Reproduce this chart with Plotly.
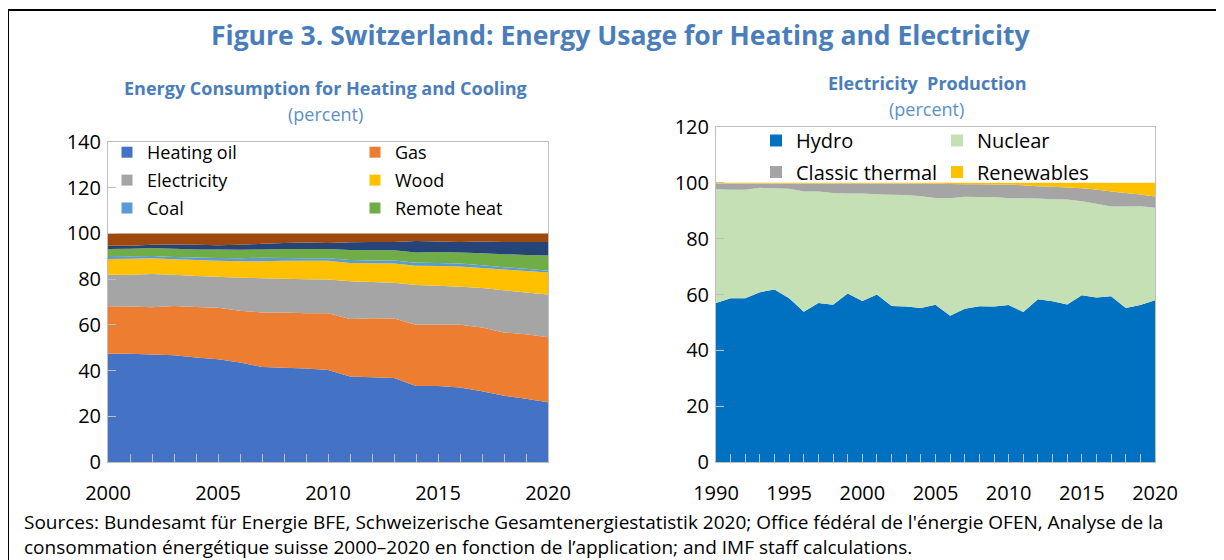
import plotly.graph_objects as go

# ---------------- data ----------------
years_heat = list(range(2000, 2021))
heating_oil = [47.4, 47.4, 47.0, 46.7, 45.7, 44.9, 43.5, 41.6, 41.2, 40.9, 40.3,
               37.4, 37.1, 36.8, 33.3, 33.2, 32.6, 31.0, 29.0, 27.7, 26.1]
gas = [20.7, 20.6, 20.7, 21.6, 22.1, 22.6, 22.7, 23.8, 24.2, 24.2, 24.8,
       25.2, 25.8, 26.0, 26.7, 26.9, 27.4, 27.8, 27.7, 28.2, 28.5]
electricity = [13.8, 13.9, 14.5, 13.6, 13.6, 13.6, 14.4, 15.0, 14.8, 14.9, 14.7,
               16.5, 15.9, 15.6, 17.4, 17.0, 16.7, 17.3, 18.4, 18.3, 18.7]
wood = [6.9, 7.0, 6.9, 6.8, 7.0, 7.0, 7.2, 7.4, 7.8, 8.0, 8.2,
        8.0, 8.1, 8.4, 8.5, 8.6, 8.8, 8.8, 9.1, 9.4, 9.6]
coal = [1.3, 1.1, 1.0, 1.0, 1.1, 1.2, 1.3, 1.6, 1.3, 1.1, 1.1,
        1.3, 1.3, 1.4, 1.3, 1.4, 1.3, 1.2, 1.0, 0.9, 0.8]
remote_heat = [3.1, 3.3, 3.5, 3.6, 3.5, 3.7, 3.8, 3.6, 3.9, 4.1, 4.1,
               4.3, 4.4, 4.4, 4.5, 4.8, 4.9, 5.2, 5.7, 6.1, 6.6]
other_heat_a = [1.4, 1.3, 1.4, 1.9, 2.0, 1.8, 2.1, 2.5, 2.6, 2.8, 2.6,
                3.4, 3.6, 3.7, 5.0, 4.6, 4.6, 5.2, 5.4, 5.6, 5.9]
other_heat_b = [5.4, 5.4, 5.0, 4.8, 5.0, 5.2, 5.0, 4.5, 4.2, 4.0, 4.2,
                3.9, 3.8, 3.7, 3.3, 3.5, 3.7, 3.5, 3.7, 3.8, 3.8]

years_elec = list(range(1990, 2021))
hydro = [57.0, 58.7, 58.7, 60.8, 61.8, 58.7, 53.8, 57.0, 56.3, 60.4, 57.7,
         60.0, 55.9, 55.7, 55.2, 56.3, 52.4, 54.9, 55.8, 55.7, 56.2,
         53.7, 58.3, 57.6, 56.4, 59.7, 58.9, 59.4, 55.2, 56.2, 57.9]
nuclear = [40.7, 38.8, 38.8, 37.4, 36.3, 39.2, 43.1, 39.9, 40.1, 35.8, 38.5,
           35.9, 39.8, 39.9, 40.0, 38.3, 42.1, 40.1, 39.1, 39.2, 38.3,
           40.8, 36.1, 36.5, 37.6, 33.7, 33.6, 32.1, 36.3, 35.4, 33.2]
classic_thermal = [2.1, 2.3, 2.3, 1.6, 1.7, 1.9, 2.9, 2.9, 3.4, 3.6, 3.6,
                   3.9, 4.1, 4.2, 4.5, 5.1, 5.1, 4.5, 4.6, 4.5, 4.9,
                   4.6, 4.4, 4.5, 4.3, 4.7, 5.1, 5.4, 4.9, 4.2, 4.0]
renewables = [0.2, 0.2, 0.2, 0.2, 0.2, 0.2, 0.2, 0.2, 0.2, 0.2, 0.2,
              0.2, 0.2, 0.2, 0.3, 0.3, 0.4, 0.5, 0.5, 0.6, 0.6,
              0.9, 1.2, 1.4, 1.7, 1.9, 2.4, 3.1, 3.6, 4.2, 4.9]

heat_names = ["Heating oil", "Gas", "Electricity", "Wood", "Coal", "Remote heat", "Other A", "Other B"]
heat_values = [heating_oil, gas, electricity, wood, coal, remote_heat, other_heat_a, other_heat_b]
heat_colors = ["#4472C4", "#ED7D31", "#A5A5A5", "#FFC000", "#5B9BD5", "#70AD47", "#264478", "#9E480E"]
heat_legend = ["legend", "legend2", "legend", "legend2", "legend", "legend2", None, None]

elec_names = ["Hydro", "Nuclear", "Classic thermal", "Renewables"]
elec_values = [hydro, nuclear, classic_thermal, renewables]
elec_colors = ["#0070C0", "#C5E0B4", "#A5A5A5", "#FFC000"]
elec_legend = ["legend3", "legend4", "legend3", "legend4"]

W, H = 1224, 560
OFF = 8  # page body margin
FONT = "Open Sans"
BLUE = "#4A7EBB"

def px(x):
    return (x - OFF) / W

def py(y):
    return (H - (y - OFF)) / H

fig = go.Figure()

# left stacked areas
for name, vals, col in zip(heat_names, heat_values, heat_colors):
    fig.add_trace(go.Scatter(
        x=years_heat, y=vals, name=name, stackgroup="heat", mode="none",
        fillcolor=col, showlegend=False, xaxis="x", yaxis="y",
        hoverinfo="x+y+name"))
# right stacked areas
for name, vals, col in zip(elec_names, elec_values, elec_colors):
    fig.add_trace(go.Scatter(
        x=years_elec, y=vals, name=name, stackgroup="elec", mode="none",
        fillcolor=col, showlegend=False, xaxis="x2", yaxis="y2",
        hoverinfo="x+y+name"))

# legend entries (square swatches)
for name, col, lg in zip(heat_names, heat_colors, heat_legend):
    if lg is None:
        continue
    fig.add_trace(go.Scatter(
        x=[None], y=[None], name=name, mode="markers",
        marker=dict(symbol="square", size=11, color=col),
        legend=lg, legendgroup=name, xaxis="x", yaxis="y"))
for name, col, lg in zip(elec_names, elec_colors, elec_legend):
    fig.add_trace(go.Scatter(
        x=[None], y=[None], name=name, mode="markers",
        marker=dict(symbol="square", size=12, color=col),
        legend=lg, legendgroup=name, xaxis="x2", yaxis="y2"))

axis_common = dict(showgrid=False, zeroline=False, showline=True, mirror=True,
                   linecolor="#BFBFBF", linewidth=1, ticks="inside", ticklen=8,
                   tickcolor="#BFBFBF", automargin=False,
                   tickfont=dict(family=FONT, size=20, color="#000000"))

fig.update_layout(
    template="none",
    width=W, height=H,
    margin=dict(l=0, r=0, t=0, b=0, pad=0, autoexpand=False),
    paper_bgcolor="white", plot_bgcolor="white",
    font=dict(family=FONT, color="#000000"),
    xaxis=dict(domain=[px(108), px(548)], range=[2000, 2020], dtick=5, anchor="y",
               ticklabelstandoff=13,
               minor=dict(dtick=1, ticks="inside", ticklen=8, tickcolor="#BFBFBF"),
               **axis_common),
    yaxis=dict(domain=[py(462), py(142)], range=[0, 140], dtick=20, anchor="x",
               ticklabelstandoff=2, **axis_common),
    xaxis2=dict(domain=[px(716), px(1155)], range=[1990, 2020], dtick=5, anchor="y2",
                ticklabelstandoff=13,
                minor=dict(dtick=1, ticks="inside", ticklen=8, tickcolor="#BFBFBF"),
                **axis_common),
    yaxis2=dict(domain=[py(462), py(127)], range=[0, 120], dtick=20, anchor="x2",
                ticklabelstandoff=2, **axis_common),
    legend=dict(x=px(107), y=py(134), xanchor="left", yanchor="top",
                bgcolor="rgba(0,0,0,0)", font=dict(family=FONT, size=18),
                traceorder="grouped", tracegroupgap=1.5),
    legend2=dict(x=px(355), y=py(134), xanchor="left", yanchor="top",
                 bgcolor="rgba(0,0,0,0)", font=dict(family=FONT, size=18),
                 traceorder="grouped", tracegroupgap=1.5),
    legend3=dict(x=px(756), y=py(121), xanchor="left", yanchor="top",
                 bgcolor="rgba(0,0,0,0)", font=dict(family=FONT, size=20),
                 traceorder="grouped", tracegroupgap=2.5),
    legend4=dict(x=px(937), y=py(121), xanchor="left", yanchor="top",
                 bgcolor="rgba(0,0,0,0)", font=dict(family=FONT, size=20),
                 traceorder="grouped", tracegroupgap=2.5),
)

# outer black frame
fig.add_shape(type="rect", xref="paper", yref="paper",
              x0=px(8), x1=px(1220), y0=-0.1, y1=py(10),
              line=dict(color="#000000", width=2), fillcolor="rgba(0,0,0,0)", layer="below")

ann = [
    dict(text="<b>Figure 3. Switzerland: Energy Usage for Heating and Electricity</b>",
         x=px(621), y=py(35), font=dict(family=FONT, size=26.5, color=BLUE)),
    dict(text="<b>Energy Consumption for Heating and Cooling</b>",
         x=px(325), y=py(88), font=dict(family=FONT, size=18, color=BLUE)),
    dict(text="(percent)", x=px(325), y=py(114), font=dict(family=FONT, size=18, color="#5B8FC7")),
    dict(text="<b>Electricity  Production</b>",
         x=px(927), y=py(83), font=dict(family=FONT, size=18, color=BLUE)),
    dict(text="(percent)", x=px(926), y=py(109), font=dict(family=FONT, size=18, color="#5B8FC7")),
]
for a in ann:
    fig.add_annotation(xref="paper", yref="paper", xanchor="center", yanchor="middle",
                       showarrow=False, **a)

foot = ("Sources: Bundesamt für Energie BFE, Schweizerische Gesamtenergiestatistik 2020; "
        "Office fédéral de l'énergie OFEN, Analyse de la<br>"
        "consommation énergétique suisse 2000–2020 en fonction de l’application; "
        "and IMF staff calculations.")
fig.add_annotation(xref="paper", yref="paper", x=px(22), y=py(534), xanchor="left",
                   yanchor="middle", showarrow=False, text=foot, align="left",
                   font=dict(family=FONT, size=19, color="#000000"))

fig.write_html("out.html")
